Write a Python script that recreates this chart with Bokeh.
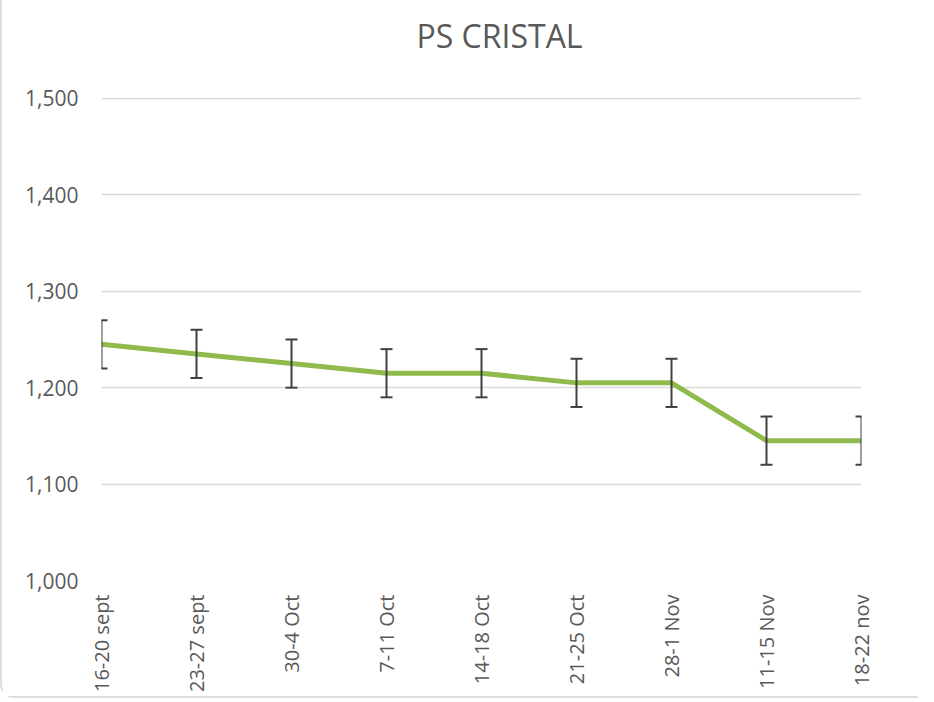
import math
from bokeh.plotting import figure
from bokeh.models import Range1d, FixedTicker, NumeralTickFormatter, ColumnDataSource, Title
from bokeh.embed import file_html
from bokeh.resources import INLINE

# ---- data ----
weeks = ["16-20 sept", "23-27 sept", "30-4 Oct", "7-11 Oct", "14-18 Oct",
         "21-25 Oct", "28-1 Nov", "11-15 Nov", "18-22 nov"]
prices = [1245, 1235, 1225, 1215, 1215, 1205, 1205, 1145, 1145]
err = [25, 25, 25, 25, 25, 25, 25, 25, 25]
y_ticks = [1000, 1100, 1200, 1300, 1400, 1500]
title_text = "PS CRISTAL"

xs = list(range(len(weeks)))
src = ColumnDataSource(dict(
    x=xs, y=prices,
    lo=[v - e for v, e in zip(prices, err)],
    hi=[v + e for v, e in zip(prices, err)],
))

FONT = "Open Sans"
TXT = "#595959"

p = figure(width=918, height=698, output_backend="svg", toolbar_location=None,
           x_range=Range1d(0, len(weeks) - 1), y_range=Range1d(y_ticks[0], y_ticks[-1] + 1),
           min_border_left=99, min_border_right=59, min_border_top=97, min_border_bottom=118)
p.outline_line_color = None
p.background_fill_color = "white"
p.border_fill_color = "white"
p.styles = {"border-left": "2px solid #DCDCDC", "border-bottom": "2px solid #DCDCDC",
            "border-bottom-left-radius": "14px"}

# spacer between frame and title (blank title panel)
p.add_layout(Title(text=" ", text_font_size="16px", standoff=15), "above")

# title
p.title.text = title_text
p.title.text_font = FONT
p.title.text_font_size = "32px"
p.title.text_font_style = "normal"
p.title.text_color = TXT
p.title.align = "left"
p.title.offset = 315
p.title.vertical_align = "top"
p.title.standoff = 10

# axes
p.xaxis.ticker = FixedTicker(ticks=xs)
p.xaxis.major_label_overrides = {i: w for i, w in enumerate(weeks)}
p.xaxis.major_label_orientation = math.pi / 2
p.xaxis.major_label_text_font = FONT
p.xaxis.major_label_text_font_size = "20px"
p.xaxis.major_label_text_color = TXT
p.xaxis.major_label_standoff = 8
p.xaxis.axis_line_color = None
p.xaxis.major_tick_line_color = None
p.xaxis.minor_tick_line_color = None

p.yaxis.ticker = FixedTicker(ticks=y_ticks)
p.yaxis.formatter = NumeralTickFormatter(format="0,0")
p.yaxis.major_label_text_font = FONT
p.yaxis.major_label_text_font_size = "21px"
p.yaxis.major_label_text_color = TXT
p.yaxis.major_label_standoff = 17
p.yaxis.axis_line_color = None
p.yaxis.major_tick_line_color = None
p.yaxis.minor_tick_line_color = None

p.xgrid.grid_line_color = None
p.ygrid.grid_line_color = "#D9D9D9"
p.ygrid.grid_line_width = 1.5

# series
p.line("x", "y", source=src, line_color="#8FBB4D", line_width=5)
p.segment(x0="x", y0="lo", x1="x", y1="hi", source=src, line_color="#404040", line_width=2)
p.scatter("x", "hi", source=src, marker="dash", size=12, line_color="#404040", line_width=2)
p.scatter("x", "lo", source=src, marker="dash", size=12, line_color="#404040", line_width=2)

open("out.html", "w").write(file_html(p, INLINE))
